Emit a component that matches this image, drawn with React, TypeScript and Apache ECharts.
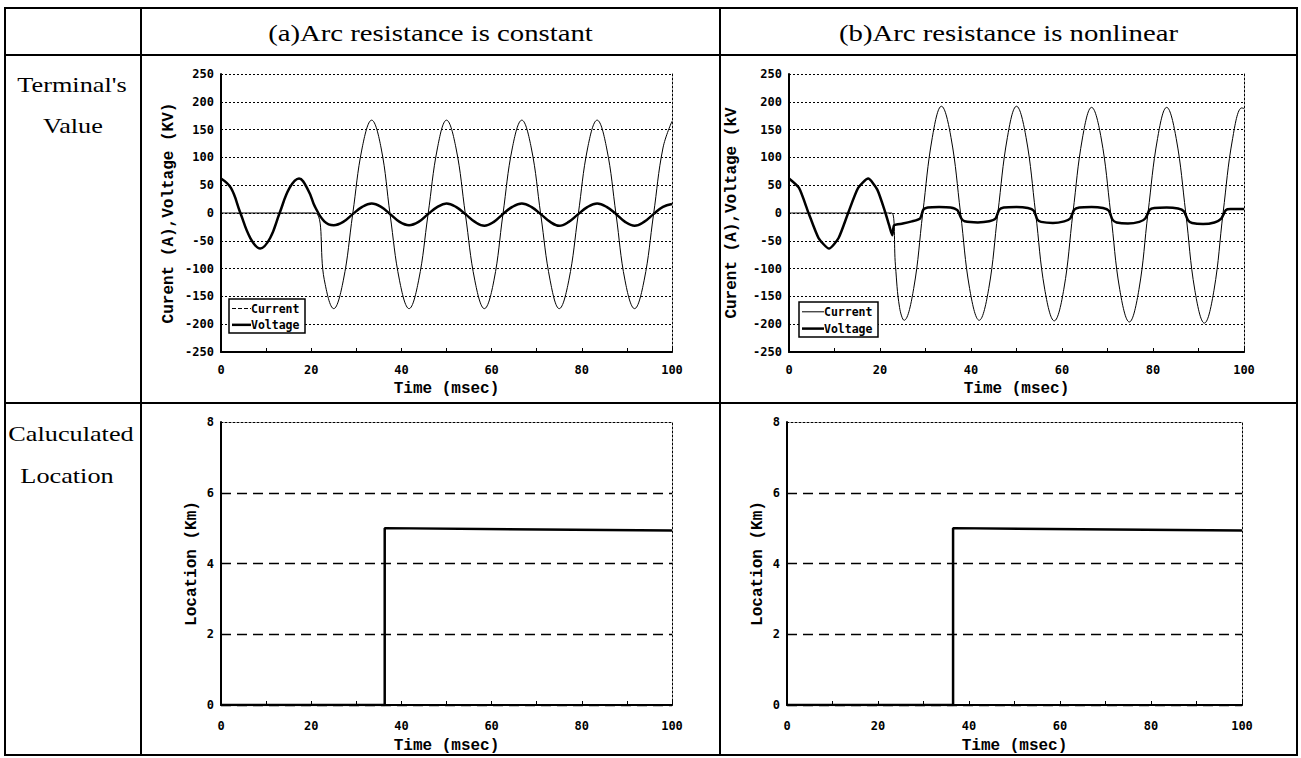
import React, { useEffect, useRef } from "react";
import * as echarts from "echarts";

// ---------------- data ----------------
const TIME_RANGE = [0, 100, 20]; // min, max, label step (msec)
const KV_RANGE = [-250, 250, 50]; // Current (A), Voltage (kV)
const KM_RANGE = [0, 8, 2]; // Location (Km)

const COLUMN_TITLES = ["(a)Arc resistance is constant", "(b)Arc resistance is nonlinear"];
const ROW_TITLES = [["Terminal's", "Value"], ["Caluculated", "Location"]];
const LEGEND_NAMES = ["Current", "Voltage"];

// (a) constant arc resistance
const currentA: [number, number][] = [
  [0, 0], [20.8, 0], [22.9, -120], [25.0, -172], [27.1, -122], [29.2, -2], [31.3, 117], [33.4, 167],
  [35.5, 117], [37.5, -3], [39.6, -122], [41.7, -172], [43.8, -122], [45.9, -3], [48.0, 117], [50.0, 167],
  [52.1, 117], [54.2, -3], [56.3, -122], [58.4, -172], [60.5, -122], [62.5, -3], [64.6, 117], [66.7, 167],
  [68.8, 117], [70.9, -3], [73.0, -122], [75.0, -172], [77.1, -122], [79.2, -3], [81.3, 117], [83.4, 167],
  [85.5, 117], [87.6, -3], [89.6, -122], [91.7, -172], [93.8, -122], [95.9, -3], [98.0, 117], [100, 165],
];
const voltageA: [number, number][] = [
  [0, 62], [2.2, 45], [4.3, 0], [6.5, -45], [8.7, -64], [10.9, -45], [13.0, 0], [15.2, 45], [17.3, 62],
  [19.4, 40], [20.8, 12], [22.9, -15], [25.0, -22], [27.1, -16], [29.2, -2], [31.3, 11], [33.4, 17],
  [35.5, 11], [37.5, -2], [39.6, -16], [41.7, -22], [43.8, -16], [45.9, -2], [48.0, 11], [50.0, 17],
  [52.1, 11], [54.2, -2], [56.3, -16], [58.4, -23], [60.5, -16], [62.5, -2], [64.6, 11], [66.7, 17],
  [68.8, 11], [70.9, -2], [73.0, -16], [75.0, -23], [77.1, -16], [79.2, -2], [81.3, 11], [83.4, 17],
  [85.5, 11], [87.6, -2], [89.6, -16], [91.7, -23], [93.8, -16], [95.9, -2], [98.0, 11], [100, 16],
];

// (b) nonlinear arc resistance
const currentB: [number, number][] = [
  [0, 0], [22.6, 0], [23.4, -95], [24.3, -170], [25.3, -193], [27.4, -136], [29.4, 0], [31.5, 136],
  [33.5, 192], [35.6, 136], [37.7, 0], [39.7, -136], [41.8, -193], [43.9, -136], [45.9, 0], [48.0, 136],
  [50.0, 192], [52.1, 136], [54.2, 0], [56.2, -137], [58.3, -194], [60.4, -137], [62.4, 0], [64.5, 135],
  [66.5, 190], [68.6, 135], [70.7, 0], [72.7, -138], [74.8, -196], [76.9, -138], [78.9, 0], [81.0, 134],
  [83.0, 190], [85.1, 134], [87.2, 0], [89.2, -139], [91.3, -198], [93.4, -139], [95.4, 0], [97.5, 134],
  [99.5, 189], [100, 188],
];
const voltageB: [number, number][] = [
  [0, 62], [2.2, 45], [4.3, 0], [6.5, -45], [8.8, -64], [10.9, -45], [13.0, 0], [15.2, 45], [17.4, 62],
  [19.4, 42], [21.2, 0], [22.0, -22], [22.7, -40], [23.1, -22], [25.0, -19], [27.0, -15], [28.8, -10],
  [29.5, 6], [30.5, 10], [33.0, 11], [35.5, 10], [37.0, 5], [37.9, -10], [38.6, -15], [41.5, -17],
  [44.0, -15], [45.4, -10], [46.2, 6], [47.2, 10], [50.0, 11], [52.5, 9], [53.8, 4], [54.6, -12],
  [55.4, -16], [58.0, -18], [60.5, -15], [61.8, -10], [62.7, 6], [63.8, 10], [66.5, 11], [69.0, 9],
  [70.3, 4], [71.1, -12], [72.0, -17], [74.5, -19], [77.0, -16], [78.3, -10], [79.3, 6], [80.3, 9],
  [83.0, 10], [85.5, 8], [86.8, 3], [87.7, -13], [88.6, -18], [91.0, -20], [93.5, -17], [95.0, -10],
  [96.0, 5], [97.0, 7], [100, 7],
];

// calculated fault location
const locationA: [number, number][] = [[0, 0], [36.3, 0], [36.3, 5.0], [100, 4.93]];
const locationB: [number, number][] = [[0, 0], [36.5, 0], [36.5, 5.0], [100, 4.93]];

// ---------------- layout / styles ----------------
const W = 1301;
const H = 758;
const TABLE = { left: 5, right: 1297, top: 8, bottom: 755, col1: 141, col2: 720, row1: 55, row2: 403 };
const GRIDS = [
  { left: 221, top: 74, width: 451, height: 278 },
  { left: 789, top: 74, width: 455, height: 278 },
  { left: 221, top: 422, width: 451, height: 283 },
  { left: 787, top: 422, width: 455, height: 283 },
];
const TICK_FONT = "DejaVu Sans Mono";
const NAME_FONT = "Liberation Mono";
const SERIF = "Liberation Serif";
const BLACK = "#000";

function mainX(gridIndex: number, margin: number, nameGap: number) {
  return {
    type: "value",
    gridIndex,
    min: TIME_RANGE[0],
    max: TIME_RANGE[1],
    interval: TIME_RANGE[2],
    name: "Time (msec)",
    nameLocation: "middle",
    nameGap,
    nameTextStyle: { fontFamily: NAME_FONT, fontWeight: "bold", fontSize: 16, color: BLACK },
    axisLine: { show: true, onZero: false, lineStyle: { color: BLACK, width: 2 } },
    axisTick: { show: true, inside: true, length: 4, lineStyle: { color: BLACK, width: 1 } },
    minorTick: { show: true, splitNumber: 2, length: 4, lineStyle: { color: BLACK, width: 1 } },
    axisLabel: { margin, fontFamily: TICK_FONT, fontWeight: "bold", fontSize: 12, color: BLACK },
    splitLine: { show: false },
  };
}

function topBorderX(gridIndex: number) {
  return {
    type: "value",
    gridIndex,
    position: "top",
    min: TIME_RANGE[0],
    max: TIME_RANGE[1],
    axisLine: { show: true, onZero: false, lineStyle: { color: BLACK, width: 1, type: [2, 2] } },
    axisTick: { show: false },
    axisLabel: { show: false },
    splitLine: { show: false },
  };
}

function mainY(gridIndex: number, range: number[], name: string, nameGap: number, split: any) {
  return {
    type: "value",
    gridIndex,
    min: range[0],
    max: range[1],
    interval: range[2],
    name,
    nameLocation: "middle",
    nameGap,
    nameTextStyle: { fontFamily: NAME_FONT, fontWeight: "bold", fontSize: 16, color: BLACK },
    axisLine: { show: true, onZero: false, lineStyle: { color: BLACK, width: 2 } },
    axisTick: { show: false },
    axisLabel: { margin: 7, fontFamily: TICK_FONT, fontWeight: "bold", fontSize: 12, color: BLACK },
    splitLine: split,
  };
}

function rightBorderY(gridIndex: number, range: number[]) {
  return {
    type: "value",
    gridIndex,
    position: "right",
    min: range[0],
    max: range[1],
    axisLine: { show: true, onZero: false, lineStyle: { color: BLACK, width: 1, type: [2, 2] } },
    axisTick: { show: false },
    axisLabel: { show: false },
    splitLine: { show: false },
  };
}

function line(idx: number, name: string, data: [number, number][], width: number, smooth: number | boolean) {
  return {
    type: "line",
    name,
    xAxisIndex: idx,
    yAxisIndex: idx,
    data,
    symbol: "none",
    showSymbol: false,
    smooth,
    silent: true,
    clip: true,
    lineStyle: { color: BLACK, width },
    z: 3,
  };
}

function legendBox(x: number, y: number, w: number, h: number, dashedCurrent: boolean, iconLen: number) {
  const rowY = [y + h * 0.28, y + h * 0.76];
  const items: any[] = [
    {
      type: "rect",
      z: 50,
      shape: { x, y, width: w, height: h },
      style: { fill: "#fff", stroke: BLACK, lineWidth: 1.5 },
    },
  ];
  LEGEND_NAMES.forEach((nm, i) => {
    items.push({
      type: "line",
      z: 51,
      shape: { x1: x + 3, y1: rowY[i], x2: x + 3 + iconLen, y2: rowY[i] },
      style: {
        stroke: BLACK,
        lineWidth: i === 0 ? 1 : 2.5,
        lineDash: i === 0 && dashedCurrent ? [4, 2] : null,
      },
    });
    items.push({
      type: "text",
      z: 51,
      x: x + 3 + iconLen,
      y: rowY[i],
      style: {
        text: nm,
        fontFamily: TICK_FONT,
        fontWeight: "bold",
        fontSize: 11.5,
        fill: BLACK,
        align: "left",
        verticalAlign: "middle",
        textAlign: "left",
        textVerticalAlign: "middle",
      },
    });
  });
  return items;
}

function serifText(text: string, x: number, y: number, size: number) {
  return {
    type: "text",
    z: 20,
    x,
    y,
    scaleX: 1.25,
    style: {
      text,
      fontFamily: SERIF,
      fontSize: size,
      fill: BLACK,
      align: "center",
      verticalAlign: "middle",
      textAlign: "center",
      textVerticalAlign: "middle",
    },
  };
}

function tableLines() {
  const st = { stroke: BLACK, lineWidth: 2 };
  const t = TABLE;
  return [
    { type: "rect", z: 20, shape: { x: t.left, y: t.top, width: t.right - t.left, height: t.bottom - t.top }, style: { fill: "none", ...st } },
    { type: "line", z: 20, shape: { x1: t.col1, y1: t.top, x2: t.col1, y2: t.bottom }, style: st },
    { type: "line", z: 20, shape: { x1: t.col2, y1: t.top, x2: t.col2, y2: t.bottom }, style: st },
    { type: "line", z: 20, shape: { x1: t.left, y1: t.row1, x2: t.right, y2: t.row1 }, style: st },
    { type: "line", z: 20, shape: { x1: t.left, y1: t.row2, x2: t.right, y2: t.row2 }, style: st },
  ];
}

function buildOption() {
  const dotted = { show: true, lineStyle: { color: BLACK, width: 1, type: [2, 2] } };
  const dashed = { show: true, showMaxLine: false, lineStyle: { color: BLACK, width: 1.3, type: [10, 6] } };
  const kvName = "Curent (A),Voltage (KV)";
  const kvNameB = "Curent (A),Voltage (kV";
  const kmName = "Location (Km)";

  return {
    animation: false,
    backgroundColor: "#fff",
    grid: GRIDS.map((g) => ({ ...g, containLabel: false, outerBoundsMode: "none" })),
    xAxis: [mainX(0, 12, 29), mainX(1, 12, 29), mainX(2, 15, 33), mainX(3, 15, 33), topBorderX(2), topBorderX(3)],
    yAxis: [
      mainY(0, KV_RANGE, kvName, 44, dotted),
      mainY(1, KV_RANGE, kvNameB, 49, dotted),
      mainY(2, KM_RANGE, kmName, 21, dashed),
      mainY(3, KM_RANGE, kmName, 21, dashed),
      rightBorderY(0, KV_RANGE),
      rightBorderY(1, KV_RANGE),
      rightBorderY(2, KM_RANGE),
      rightBorderY(3, KM_RANGE),
    ],
    series: [
      line(0, LEGEND_NAMES[0], currentA, 1, 0.4),
      line(0, LEGEND_NAMES[1], voltageA, 2.5, 0.4),
      line(1, LEGEND_NAMES[0], currentB, 1, 0.4),
      line(1, LEGEND_NAMES[1], voltageB, 2.5, 0.2),
      line(2, kmName, locationA, 2.5, false),
      line(3, kmName, locationB, 2.5, false),
    ],
    graphic: [
      ...tableLines(),
      serifText(COLUMN_TITLES[0], (TABLE.col1 + TABLE.col2) / 2, 33, 23),
      serifText(COLUMN_TITLES[1], (TABLE.col2 + TABLE.right) / 2, 33, 23),
      serifText(ROW_TITLES[0][0], 72, 85, 21),
      serifText(ROW_TITLES[0][1], 73, 126, 21),
      serifText(ROW_TITLES[1][0], 71, 434, 21),
      serifText(ROW_TITLES[1][1], 67, 476, 21),
      ...legendBox(229, 299, 76, 34, true, 19),
      ...legendBox(799, 302, 79, 35, false, 22),
    ],
  };
}

export default function App() {
  const ref = useRef<HTMLDivElement>(null);
  useEffect(() => {
    if (!ref.current) return;
    const chart = echarts.init(ref.current, null, { renderer: "svg", width: W, height: H });
    chart.setOption(buildOption() as any);
    return () => chart.dispose();
  }, []);
  return (
    <div
      ref={ref}
      style={{ position: "fixed", left: 0, top: 0, width: W, height: H, background: "#fff" }}
    />
  );
}
